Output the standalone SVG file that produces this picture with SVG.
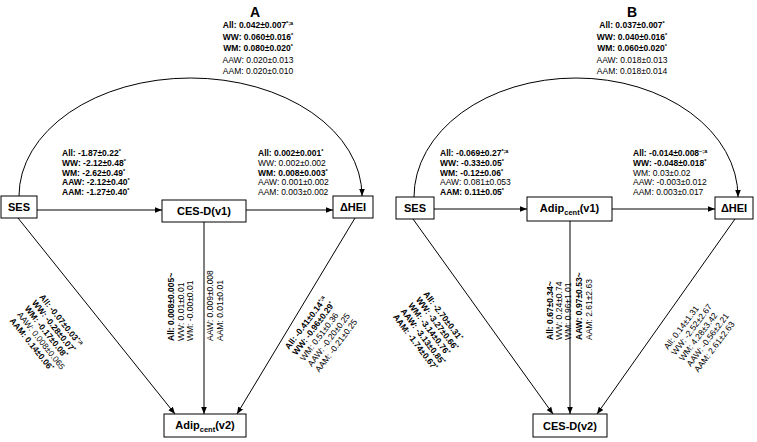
<svg xmlns="http://www.w3.org/2000/svg" width="757" height="442" viewBox="0 0 757 442">
<style>
.t{font-family:"Liberation Sans",Arial,sans-serif;font-size:8.5px;fill:#000}
.b{font-weight:bold}
.s{font-size:5.5px}
.n{font-family:"Liberation Sans",Arial,sans-serif;font-size:11px;font-weight:bold;text-anchor:middle;fill:#000}
.sub{font-size:7.5px}
.h{font-family:"Liberation Sans",Arial,sans-serif;font-size:14px;font-weight:bold;text-anchor:middle;fill:#000}
.box{fill:#fff;stroke:#000;stroke-width:1}
.c{stroke:#000;stroke-width:1;fill:none;marker-end:url(#ah)}
</style>
<defs>
<marker id="ah" viewBox="0 0 10 10" refX="10" refY="5" markerWidth="7" markerHeight="7" orient="auto" markerUnits="userSpaceOnUse"><path d="M0,1 L10,5 L0,9 z" fill="#000"/></marker>
</defs>
<rect width="757" height="442" fill="#fff"/>

<g id="connectors">
<path class="c" d="M19,196 A171.5,118 0 0 1 362,196"/>
<path class="c" d="M37,210 L162,210"/>
<path class="c" d="M246,210 L333,210"/>
<path class="c" d="M18,218 L175,414"/>
<path class="c" d="M204,222 L204,414"/>
<path class="c" d="M355,218 L237,414"/>
<path class="c" d="M414,197 A162,119 0 0 1 738,197"/>
<path class="c" d="M434,209 L527,209"/>
<path class="c" d="M612,209 L715,209"/>
<path class="c" d="M413,219 L553,414"/>
<path class="c" d="M570,221 L570,414"/>
<path class="c" d="M735,219 L597,414"/>
</g>

<text class="h" x="255" y="17">A</text>
<text class="h" x="632" y="17">B</text>

<g id="nodeA-SES"><rect class="box" x="1" y="196" width="36" height="22"/><text class="n" x="19" y="211">SES</text></g>
<g id="nodeA-CESD1"><rect class="box" x="162" y="200" width="84" height="22"/><text class="n" x="204" y="215">CES-D(v1)</text></g>
<g id="nodeA-HEI"><rect class="box" x="333" y="196" width="40" height="22"/><text class="n" x="353" y="211">ΔHEI</text></g>
<g id="nodeA-Adip2"><rect class="box" x="164" y="414" width="82" height="23"/><text class="n" x="205" y="429">Adip<tspan class="sub" dy="3">cent</tspan><tspan dy="-3">(v2)</tspan></text></g>

<g id="nodeB-SES"><rect class="box" x="396" y="197" width="38" height="22"/><text class="n" x="415" y="212">SES</text></g>
<g id="nodeB-Adip1"><rect class="box" x="527" y="197" width="85" height="24"/><text class="n" x="569.5" y="212">Adip<tspan class="sub" dy="3">cent</tspan><tspan dy="-3">(v1)</tspan></text></g>
<g id="nodeB-HEI"><rect class="box" x="715" y="197" width="38" height="22"/><text class="n" x="734" y="212">ΔHEI</text></g>
<g id="nodeB-CESD2"><rect class="box" x="533" y="414" width="74" height="23"/><text class="n" x="570" y="429.5">CES-D(v2)</text></g>

<g id="labelsA-top" class="t" text-anchor="middle">
<text class="b" x="258" y="28">All: 0.042±0.007<tspan class="s" dy="-3">*;a</tspan></text>
<text class="b" x="258" y="39.5">WW: 0.060±0.016<tspan class="s" dy="-3">*</tspan></text>
<text class="b" x="258" y="51">WM: 0.080±0.020<tspan class="s" dy="-3">*</tspan></text>
<text x="258" y="62.5">AAW: 0.020±0.013</text>
<text x="258" y="74">AAM: 0.020±0.010</text>
</g>
<g id="labelsA-left" class="t">
<text class="b" x="62" y="156">All: -1.87±0.22<tspan class="s" dy="-3">*</tspan></text>
<text class="b" x="62" y="166">WW: -2.12±0.48<tspan class="s" dy="-3">*</tspan></text>
<text class="b" x="62" y="175.5">WM: -2.62±0.49<tspan class="s" dy="-3">*</tspan></text>
<text class="b" x="62" y="185">AAW: -2.12±0.40<tspan class="s" dy="-3">*</tspan></text>
<text class="b" x="62" y="195">AAM: -1.27±0.40<tspan class="s" dy="-3">*</tspan></text>
</g>
<g id="labelsA-right" class="t">
<text class="b" x="258" y="156">All: 0.002±0.001<tspan class="s" dy="-3">*</tspan></text>
<text x="258" y="166">WW: 0.002±0.002</text>
<text class="b" x="258" y="175.5">WM: 0.008±0.003<tspan class="s" dy="-3">*</tspan></text>
<text x="258" y="185">AAW: 0.001±0.002</text>
<text x="258" y="195">AAM: 0.003±0.002</text>
</g>
<g id="labelsA-diagL" class="t" transform="translate(39,297) rotate(51.5)">
<text class="b" x="0" y="0">All: -0.07±0.03<tspan class="s" dy="-3">*;a</tspan></text>
<text class="b" x="0" y="9.5">WW: -0.28±0.07<tspan class="s" dy="-3">*</tspan></text>
<text class="b" x="0" y="19">WM: -0.17±0.08<tspan class="s" dy="-3">*</tspan></text>
<text x="0" y="28.5">AAW: 0.008±0.065</text>
<text class="b" x="0" y="38">AAM: 0.14±0.06<tspan class="s" dy="-3">*</tspan></text>
</g>
<g id="labelsA-vert" class="t">
<text class="b" transform="translate(174,341) rotate(-90)">All: 0.008±0.005~</text>
<text transform="translate(183.5,341) rotate(-90)">WW: 0.01±0.01</text>
<text transform="translate(193,341) rotate(-90)">WM: -0.00±0.01</text>
<text transform="translate(213,341) rotate(-90)">AAW: 0.009±0.008</text>
<text transform="translate(222.5,341) rotate(-90)">AAM: 0.01±0.01</text>
</g>
<g id="labelsA-diagR" class="t" transform="translate(289,350) rotate(-53)">
<text class="b" x="0" y="0">All: -0.41±0.14<tspan class="s" dy="-3">*;a</tspan></text>
<text class="b" x="0" y="9.5">WW: -0.96±0.29<tspan class="s" dy="-3">*</tspan></text>
<text x="0" y="19">WM: 0.51±0.36</text>
<text x="0" y="28.5">AAW: -0.20±0.25</text>
<text x="0" y="38">AAM: -0.21±0.25</text>
</g>

<g id="labelsB-top" class="t" text-anchor="middle">
<text class="b" x="632" y="28">All: 0.037±0.007<tspan class="s" dy="-3">*</tspan></text>
<text class="b" x="632" y="39.5">WW: 0.040±0.016<tspan class="s" dy="-3">*</tspan></text>
<text class="b" x="632" y="51">WM: 0.060±0.020<tspan class="s" dy="-3">*</tspan></text>
<text x="632" y="62.5">AAW: 0.018±0.013</text>
<text x="632" y="74">AAM: 0.018±0.014</text>
</g>
<g id="labelsB-left" class="t">
<text class="b" x="440" y="156">All: -0.069±0.27<tspan class="s" dy="-3">*;a</tspan></text>
<text class="b" x="440" y="166">WW: -0.33±0.05<tspan class="s" dy="-3">*</tspan></text>
<text class="b" x="440" y="175.5">WM: -0.12±0.06<tspan class="s" dy="-3">*</tspan></text>
<text x="440" y="185">AAW: 0.081±0.053</text>
<text class="b" x="440" y="195">AAM: 0.11±0.05<tspan class="s" dy="-3">*</tspan></text>
</g>
<g id="labelsB-right" class="t">
<text class="b" x="633" y="156">All: -0.014±0.008<tspan class="s" dy="-3">~;a</tspan></text>
<text class="b" x="633" y="166">WW: -0.048±0.018<tspan class="s" dy="-3">*</tspan></text>
<text x="633" y="175.5">WM: 0.03±0.02</text>
<text x="633" y="185">AAW: -0.003±0.012</text>
<text x="633" y="195">AAM: 0.003±0.017</text>
</g>
<g id="labelsB-diagL" class="t" transform="translate(423,294) rotate(53)">
<text class="b" x="0" y="0">All: -2.70±0.31<tspan class="s" dy="-3">*</tspan></text>
<text class="b" x="0" y="9.5">WW: -3.27±0.66<tspan class="s" dy="-3">*</tspan></text>
<text class="b" x="0" y="19">WM: -3.14±0.76<tspan class="s" dy="-3">*</tspan></text>
<text class="b" x="0" y="28.5">AAW: -3.13±0.85<tspan class="s" dy="-3">*</tspan></text>
<text class="b" x="0" y="38">AAM: -1.74±0.67<tspan class="s" dy="-3">*</tspan></text>
</g>
<g id="labelsB-vert" class="t">
<text class="b" transform="translate(553,340) rotate(-90)">All: 0.67±0.34~</text>
<text transform="translate(561.5,340) rotate(-90)">WW: 0.24±0.74</text>
<text transform="translate(570.5,340) rotate(-90)">WM: 0.96±1.01</text>
<text class="b" transform="translate(582,340) rotate(-90)">AAW: 0.97±0.53~</text>
<text transform="translate(591.5,340) rotate(-90)">AAM: 2.61±2.63</text>
</g>
<g id="labelsB-diagR" class="t" transform="translate(668,350) rotate(-53)">
<text x="0" y="0">All: 0.14±1.31</text>
<text x="0" y="9.5">WW: -2.52±2.67</text>
<text x="0" y="19">WM: 4.28±3.42</text>
<text x="0" y="28.5">AAW: -0.56±2.21</text>
<text x="0" y="38">AAM: 2.61±2.63</text>
</g>
</svg>
